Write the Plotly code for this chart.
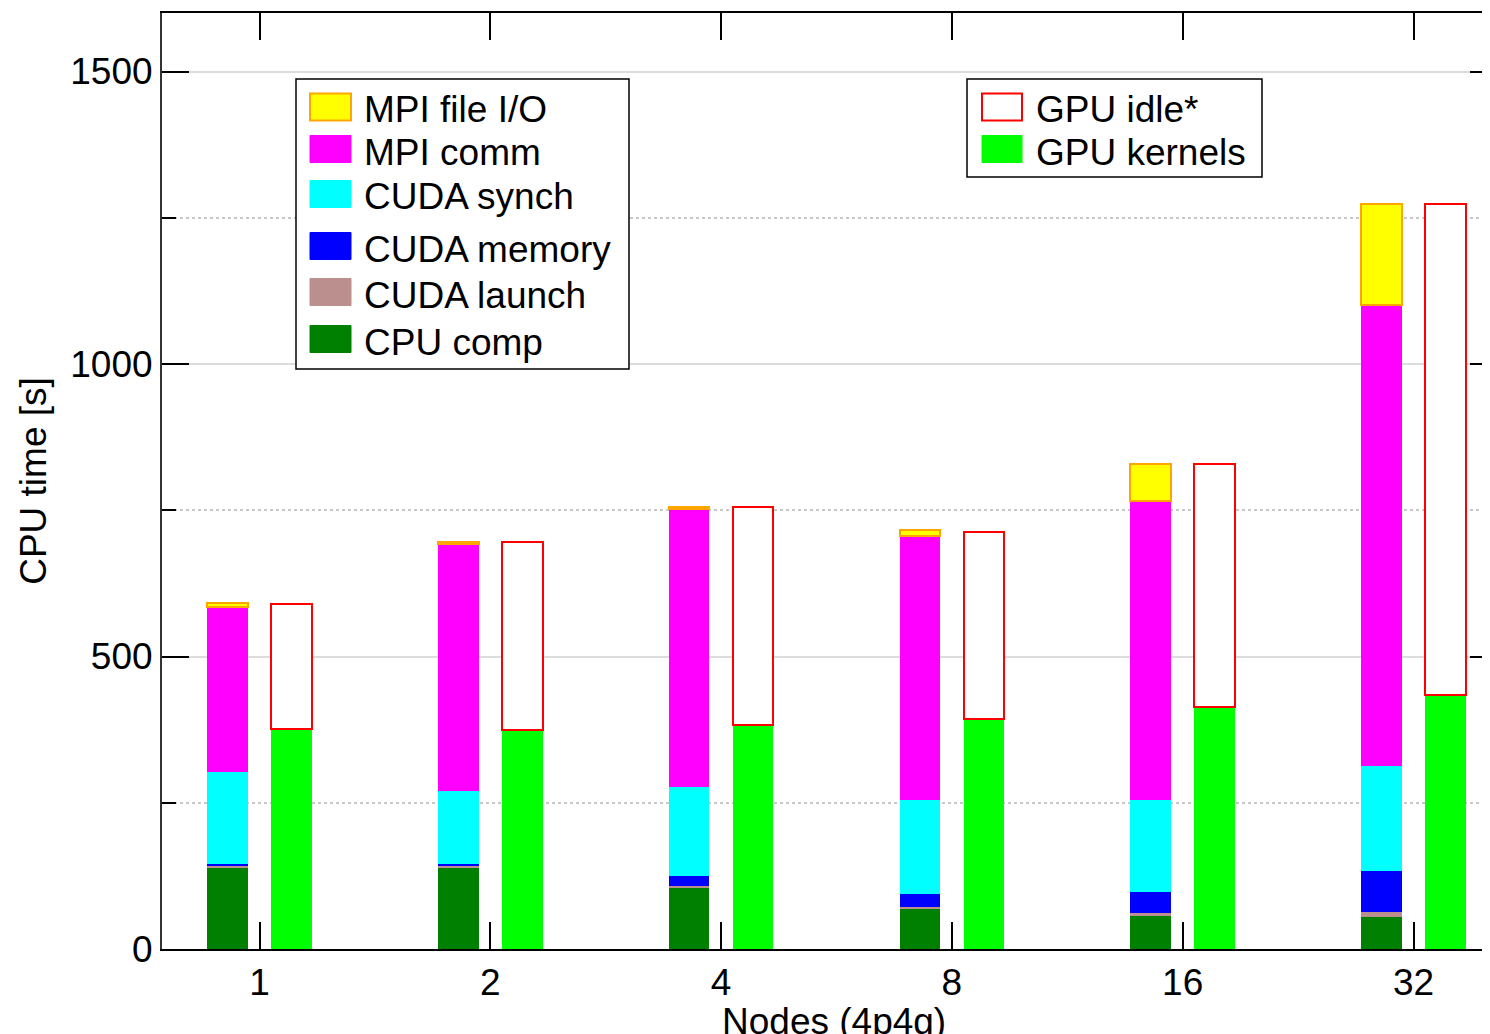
import plotly.graph_objects as go

# ---------------- data ----------------
nodes = ["1", "2", "4", "8", "16", "32"]

cpu_comp    = [139, 139, 105, 68, 57, 55]
cuda_launch = [3, 3, 3.5, 3.5, 4, 8]
cuda_memory = [4, 4, 16, 23, 37, 71]
cuda_synch  = [157, 124, 153, 161, 157, 178]
mpi_comm    = [281, 422, 475, 450, 510, 789]
mpi_file_io = [7, 4, 3.5, 10, 64, 173]

gpu_kernels = [376, 375, 383, 394, 414, 434]
gpu_idle    = [214, 320, 372, 319, 415, 840]

y_ticks = [0, 500, 1000, 1500]

# ---------------- styling ----------------
FONT = "Liberation Sans, Arial, Helvetica, sans-serif"
FS = 37

cpu_series = [
    ("CPU comp", cpu_comp, "#008000", "#008000", 0),
    ("CUDA launch", cuda_launch, "#bc8f8f", "#bc8f8f", 0),
    ("CUDA memory", cuda_memory, "#0000ff", "#0000ff", 0),
    ("CUDA synch", cuda_synch, "#00ffff", "#00ffff", 0),
    ("MPI comm", mpi_comm, "#ff00ff", "#ff00ff", 0),
    ("MPI file I/O", mpi_file_io, "#ffff00", "#ffa500", 2),
]
gpu_series = [
    ("GPU kernels", gpu_kernels, "#00ff00", "#00ff00", 0),
    ("GPU idle*", gpu_idle, "#ffffff", "#ff0000", 2),
]

idx = list(range(len(nodes)))
OFF = 0.139
BW = 0.176

fig = go.Figure()
for name, vals, fill, line, lw in cpu_series:
    fig.add_trace(go.Bar(
        x=[i - OFF for i in idx], y=vals, name=name, width=BW,
        marker=dict(color=fill, line=dict(color=line, width=lw)),
        showlegend=False,
    ))
for name, vals, fill, line, lw in gpu_series:
    fig.add_trace(go.Bar(
        x=[i + OFF for i in idx], y=vals, name=name, width=BW,
        marker=dict(color=fill, line=dict(color=line, width=lw)),
        showlegend=False,
    ))
# empty trace so that the right-hand (mirror) tick axis is drawn
fig.add_trace(go.Scatter(x=[None], y=[None], yaxis="y2", mode="markers",
                         showlegend=False, hoverinfo="skip"))

# page offset (body margin) and plot area in window pixels
PAD = 8
FIG_W, FIG_H = 1490 - PAD, 1034 - PAD
L, R, T, B = 162, 1490, 13, 949
W, H = R - L, B - T
def px(x):
    return (x - L) / W
def py(y):
    return (B - y) / H

# ---------------- manual legends ----------------
shapes = []
annotations = []

def legend_box(x0, y0, x1, y1, entries, sx0, sx1, tx):
    shapes.append(dict(type="rect", xref="paper", yref="paper", layer="above",
                       x0=px(x0), x1=px(x1), y0=py(y1), y1=py(y0),
                       fillcolor="white", line=dict(color="black", width=1.5)))
    for (name, fill, line, lw), cy in entries:
        shapes.append(dict(type="rect", xref="paper", yref="paper", layer="above",
                           x0=px(sx0), x1=px(sx1), y0=py(cy + 13.5), y1=py(cy - 13.5),
                           fillcolor=fill, line=dict(color=line, width=max(lw, 1))))
        annotations.append(dict(xref="paper", yref="paper", x=px(tx), y=py(cy + 3),
                                text=name, showarrow=False, xanchor="left",
                                yanchor="middle",
                                font=dict(family=FONT, size=FS, color="black")))

legend1_order = ["MPI file I/O", "MPI comm", "CUDA synch", "CUDA memory", "CUDA launch", "CPU comp"]
cpu_lookup = {s[0]: (s[0], s[2], s[3], s[4]) for s in cpu_series}
legend1_y = [107, 149, 194, 246, 292, 339]
legend_box(296, 79, 629, 369,
           [(cpu_lookup[n], y) for n, y in zip(legend1_order, legend1_y)],
           310, 351, 362)

gpu_lookup = {s[0]: (s[0], s[2], s[3], s[4]) for s in gpu_series}
legend2_order = ["GPU idle*", "GPU kernels"]
legend_box(967, 79, 1262, 177,
           [(gpu_lookup[n], y) for n, y in zip(legend2_order, [107, 149])],
           982, 1022, 1034)

# x-axis title (placed as annotation so it can sit slightly lower, as in the source)
annotations.append(dict(xref="paper", yref="paper", x=px(834), y=py(999),
                        text="Nodes (4p4g)", showarrow=False, xanchor="center",
                        yanchor="top", font=dict(family=FONT, size=FS, color="black")))

x0r = -(259.5 - L) / 230.8
x1r = x0r + W / 230.8

fig.update_layout(
    width=FIG_W, height=FIG_H,
    margin=dict(l=L - PAD, r=FIG_W + PAD - R, t=T - PAD, b=FIG_H + PAD - B),
    paper_bgcolor="white", plot_bgcolor="white",
    barmode="stack", bargap=0,
    font=dict(family=FONT, size=FS, color="black"),
    shapes=shapes, annotations=annotations,
    xaxis=dict(
        range=[x0r, x1r], tickmode="array", tickvals=idx, ticktext=nodes,
        ticks="inside", ticklen=27, tickwidth=2, tickcolor="black",
        showline=True, linecolor="black", linewidth=2, mirror="ticks",
        showgrid=False, zeroline=False, automargin=False,
        tickfont=dict(size=FS),
    ),
    yaxis=dict(
        range=[0, 1600], tickmode="array", tickvals=y_ticks,
        ticks="inside", ticklen=27, tickwidth=2, tickcolor="black",
        showline=True, linecolor="#333333", linewidth=2, mirror=False,
        showgrid=True, gridcolor="#dddddd", gridwidth=1.5,
        zeroline=False, automargin=False,
        minor=dict(tickvals=[250, 750, 1250], ticks="inside", ticklen=14,
                   tickwidth=2, tickcolor="black", showgrid=True,
                   gridcolor="#c8c8c8", griddash="dot", gridwidth=2),
        title=dict(text="CPU time [s]", standoff=12, font=dict(size=FS)),
        tickfont=dict(size=FS),
    ),
    yaxis2=dict(
        range=[0, 1600], overlaying="y", side="right", anchor="x",
        tickmode="array", tickvals=y_ticks, ticks="inside", ticklen=20,
        tickwidth=2, tickcolor="black", showticklabels=False,
        showgrid=False, zeroline=False, showline=False, automargin=False,
    ),
)

fig.write_html("out.html")
